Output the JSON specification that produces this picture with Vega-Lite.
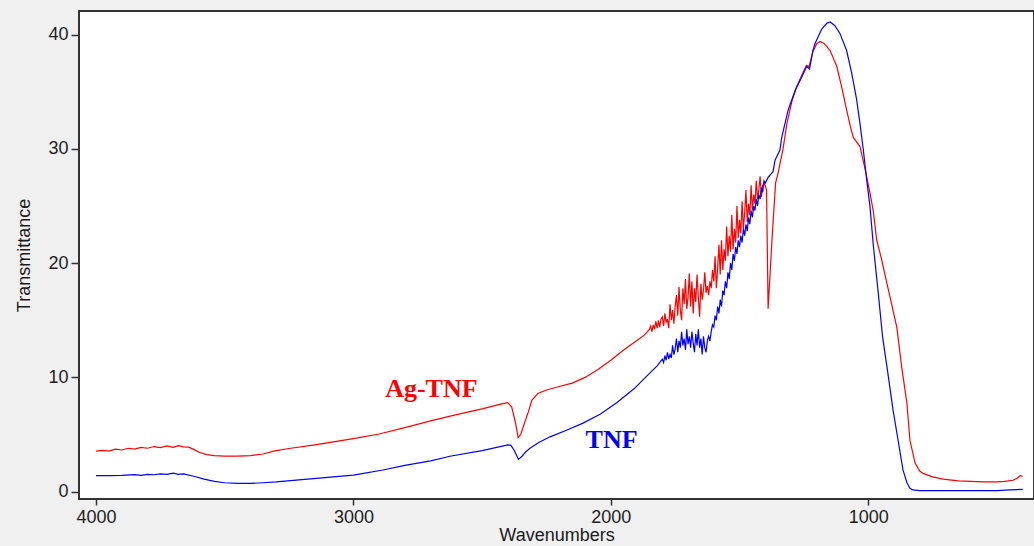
{
  "$schema": "https://vega.github.io/schema/vega-lite/v6.json",
  "autosize": {"type": "none"},
  "padding": {"left": 79, "top": 11, "right": 0, "bottom": 47},
  "width": 955,
  "height": 488,
  "background": "#f0f0f0",
  "config": {
    "view": {"fill": "#ffffff", "stroke": "#333333", "strokeWidth": 2},
    "axis": {
      "labelFont": "Liberation Sans",
      "labelFontSize": 18,
      "labelColor": "#1e1e1e",
      "titleFont": "Liberation Sans",
      "titleFontSize": 18,
      "titleFontWeight": "normal",
      "titleColor": "#1a1a1a",
      "tickColor": "#333333",
      "tickWidth": 1.5,
      "domain": false,
      "grid": false
    }
  },
  "datasets": {
    "spectra": [
      {"w": 4000, "t": 3.55, "s": "Ag-TNF"},
      {"w": 3975, "t": 3.62, "s": "Ag-TNF"},
      {"w": 3950, "t": 3.55, "s": "Ag-TNF"},
      {"w": 3925, "t": 3.72, "s": "Ag-TNF"},
      {"w": 3900, "t": 3.65, "s": "Ag-TNF"},
      {"w": 3875, "t": 3.8, "s": "Ag-TNF"},
      {"w": 3850, "t": 3.72, "s": "Ag-TNF"},
      {"w": 3825, "t": 3.88, "s": "Ag-TNF"},
      {"w": 3800, "t": 3.8, "s": "Ag-TNF"},
      {"w": 3775, "t": 3.95, "s": "Ag-TNF"},
      {"w": 3750, "t": 3.85, "s": "Ag-TNF"},
      {"w": 3725, "t": 4.0, "s": "Ag-TNF"},
      {"w": 3700, "t": 3.88, "s": "Ag-TNF"},
      {"w": 3680, "t": 4.02, "s": "Ag-TNF"},
      {"w": 3660, "t": 3.92, "s": "Ag-TNF"},
      {"w": 3640, "t": 3.9, "s": "Ag-TNF"},
      {"w": 3620, "t": 3.7, "s": "Ag-TNF"},
      {"w": 3600, "t": 3.45, "s": "Ag-TNF"},
      {"w": 3570, "t": 3.25, "s": "Ag-TNF"},
      {"w": 3540, "t": 3.15, "s": "Ag-TNF"},
      {"w": 3500, "t": 3.12, "s": "Ag-TNF"},
      {"w": 3450, "t": 3.12, "s": "Ag-TNF"},
      {"w": 3400, "t": 3.15, "s": "Ag-TNF"},
      {"w": 3350, "t": 3.3, "s": "Ag-TNF"},
      {"w": 3310, "t": 3.55, "s": "Ag-TNF"},
      {"w": 3250, "t": 3.78, "s": "Ag-TNF"},
      {"w": 3150, "t": 4.1, "s": "Ag-TNF"},
      {"w": 3000, "t": 4.65, "s": "Ag-TNF"},
      {"w": 2900, "t": 5.05, "s": "Ag-TNF"},
      {"w": 2800, "t": 5.6, "s": "Ag-TNF"},
      {"w": 2700, "t": 6.2, "s": "Ag-TNF"},
      {"w": 2600, "t": 6.75, "s": "Ag-TNF"},
      {"w": 2500, "t": 7.25, "s": "Ag-TNF"},
      {"w": 2420, "t": 7.7, "s": "Ag-TNF"},
      {"w": 2400, "t": 7.8, "s": "Ag-TNF"},
      {"w": 2385, "t": 7.4, "s": "Ag-TNF"},
      {"w": 2370, "t": 6.0, "s": "Ag-TNF"},
      {"w": 2360, "t": 4.75, "s": "Ag-TNF"},
      {"w": 2350, "t": 5.0, "s": "Ag-TNF"},
      {"w": 2340, "t": 5.7, "s": "Ag-TNF"},
      {"w": 2320, "t": 7.0, "s": "Ag-TNF"},
      {"w": 2307, "t": 8.0, "s": "Ag-TNF"},
      {"w": 2283, "t": 8.6, "s": "Ag-TNF"},
      {"w": 2250, "t": 8.9, "s": "Ag-TNF"},
      {"w": 2200, "t": 9.2, "s": "Ag-TNF"},
      {"w": 2150, "t": 9.5, "s": "Ag-TNF"},
      {"w": 2100, "t": 10.0, "s": "Ag-TNF"},
      {"w": 2050, "t": 10.7, "s": "Ag-TNF"},
      {"w": 2000, "t": 11.5, "s": "Ag-TNF"},
      {"w": 1950, "t": 12.4, "s": "Ag-TNF"},
      {"w": 1900, "t": 13.2, "s": "Ag-TNF"},
      {"w": 1870, "t": 13.7, "s": "Ag-TNF"},
      {"w": 1850, "t": 14.2, "s": "Ag-TNF"},
      {"w": 1845, "t": 14.5, "s": "Ag-TNF"},
      {"w": 1840, "t": 14.0, "s": "Ag-TNF"},
      {"w": 1835, "t": 14.6, "s": "Ag-TNF"},
      {"w": 1830, "t": 14.2, "s": "Ag-TNF"},
      {"w": 1825, "t": 14.9, "s": "Ag-TNF"},
      {"w": 1820, "t": 14.3, "s": "Ag-TNF"},
      {"w": 1815, "t": 15.0, "s": "Ag-TNF"},
      {"w": 1810, "t": 14.4, "s": "Ag-TNF"},
      {"w": 1805, "t": 15.1, "s": "Ag-TNF"},
      {"w": 1800, "t": 15.3, "s": "Ag-TNF"},
      {"w": 1795, "t": 14.5, "s": "Ag-TNF"},
      {"w": 1790, "t": 15.6, "s": "Ag-TNF"},
      {"w": 1785, "t": 14.8, "s": "Ag-TNF"},
      {"w": 1780, "t": 15.1, "s": "Ag-TNF"},
      {"w": 1775, "t": 14.3, "s": "Ag-TNF"},
      {"w": 1770, "t": 16.4, "s": "Ag-TNF"},
      {"w": 1765, "t": 15.0, "s": "Ag-TNF"},
      {"w": 1760, "t": 15.9, "s": "Ag-TNF"},
      {"w": 1755, "t": 14.7, "s": "Ag-TNF"},
      {"w": 1750, "t": 16.2, "s": "Ag-TNF"},
      {"w": 1745, "t": 17.2, "s": "Ag-TNF"},
      {"w": 1740, "t": 15.4, "s": "Ag-TNF"},
      {"w": 1735, "t": 17.9, "s": "Ag-TNF"},
      {"w": 1730, "t": 15.9, "s": "Ag-TNF"},
      {"w": 1725, "t": 15.0, "s": "Ag-TNF"},
      {"w": 1720, "t": 17.8, "s": "Ag-TNF"},
      {"w": 1715, "t": 16.4, "s": "Ag-TNF"},
      {"w": 1710, "t": 18.6, "s": "Ag-TNF"},
      {"w": 1705, "t": 16.0, "s": "Ag-TNF"},
      {"w": 1700, "t": 17.0, "s": "Ag-TNF"},
      {"w": 1695, "t": 19.1, "s": "Ag-TNF"},
      {"w": 1690, "t": 16.2, "s": "Ag-TNF"},
      {"w": 1685, "t": 18.4, "s": "Ag-TNF"},
      {"w": 1680, "t": 15.6, "s": "Ag-TNF"},
      {"w": 1675, "t": 17.8, "s": "Ag-TNF"},
      {"w": 1670, "t": 16.6, "s": "Ag-TNF"},
      {"w": 1665, "t": 19.0, "s": "Ag-TNF"},
      {"w": 1660, "t": 17.0, "s": "Ag-TNF"},
      {"w": 1655, "t": 15.3, "s": "Ag-TNF"},
      {"w": 1650, "t": 18.2, "s": "Ag-TNF"},
      {"w": 1645, "t": 16.8, "s": "Ag-TNF"},
      {"w": 1640, "t": 17.6, "s": "Ag-TNF"},
      {"w": 1635, "t": 19.2, "s": "Ag-TNF"},
      {"w": 1630, "t": 17.4, "s": "Ag-TNF"},
      {"w": 1625, "t": 18.0, "s": "Ag-TNF"},
      {"w": 1620, "t": 17.2, "s": "Ag-TNF"},
      {"w": 1615, "t": 18.4, "s": "Ag-TNF"},
      {"w": 1610, "t": 17.8, "s": "Ag-TNF"},
      {"w": 1605, "t": 19.4, "s": "Ag-TNF"},
      {"w": 1600, "t": 18.4, "s": "Ag-TNF"},
      {"w": 1595, "t": 20.6, "s": "Ag-TNF"},
      {"w": 1590, "t": 17.8, "s": "Ag-TNF"},
      {"w": 1585, "t": 19.6, "s": "Ag-TNF"},
      {"w": 1580, "t": 21.6, "s": "Ag-TNF"},
      {"w": 1575, "t": 19.0, "s": "Ag-TNF"},
      {"w": 1570, "t": 22.0, "s": "Ag-TNF"},
      {"w": 1565, "t": 19.4, "s": "Ag-TNF"},
      {"w": 1560, "t": 21.2, "s": "Ag-TNF"},
      {"w": 1555, "t": 20.2, "s": "Ag-TNF"},
      {"w": 1550, "t": 23.2, "s": "Ag-TNF"},
      {"w": 1545, "t": 20.6, "s": "Ag-TNF"},
      {"w": 1540, "t": 22.4, "s": "Ag-TNF"},
      {"w": 1535, "t": 21.0, "s": "Ag-TNF"},
      {"w": 1530, "t": 24.2, "s": "Ag-TNF"},
      {"w": 1525, "t": 21.2, "s": "Ag-TNF"},
      {"w": 1520, "t": 23.0, "s": "Ag-TNF"},
      {"w": 1515, "t": 21.8, "s": "Ag-TNF"},
      {"w": 1510, "t": 25.0, "s": "Ag-TNF"},
      {"w": 1505, "t": 22.2, "s": "Ag-TNF"},
      {"w": 1500, "t": 23.8, "s": "Ag-TNF"},
      {"w": 1495, "t": 22.6, "s": "Ag-TNF"},
      {"w": 1490, "t": 25.4, "s": "Ag-TNF"},
      {"w": 1485, "t": 23.0, "s": "Ag-TNF"},
      {"w": 1480, "t": 24.4, "s": "Ag-TNF"},
      {"w": 1475, "t": 26.4, "s": "Ag-TNF"},
      {"w": 1470, "t": 23.6, "s": "Ag-TNF"},
      {"w": 1465, "t": 25.2, "s": "Ag-TNF"},
      {"w": 1460, "t": 24.2, "s": "Ag-TNF"},
      {"w": 1455, "t": 26.8, "s": "Ag-TNF"},
      {"w": 1450, "t": 24.6, "s": "Ag-TNF"},
      {"w": 1445, "t": 26.0, "s": "Ag-TNF"},
      {"w": 1440, "t": 25.2, "s": "Ag-TNF"},
      {"w": 1435, "t": 27.2, "s": "Ag-TNF"},
      {"w": 1430, "t": 25.6, "s": "Ag-TNF"},
      {"w": 1425, "t": 26.4, "s": "Ag-TNF"},
      {"w": 1420, "t": 27.6, "s": "Ag-TNF"},
      {"w": 1415, "t": 25.8, "s": "Ag-TNF"},
      {"w": 1410, "t": 26.8, "s": "Ag-TNF"},
      {"w": 1405, "t": 27.0, "s": "Ag-TNF"},
      {"w": 1400, "t": 26.8, "s": "Ag-TNF"},
      {"w": 1395, "t": 26.4, "s": "Ag-TNF"},
      {"w": 1389, "t": 16.0, "s": "Ag-TNF"},
      {"w": 1374, "t": 22.0, "s": "Ag-TNF"},
      {"w": 1360, "t": 27.0, "s": "Ag-TNF"},
      {"w": 1350, "t": 27.9, "s": "Ag-TNF"},
      {"w": 1331, "t": 30.0, "s": "Ag-TNF"},
      {"w": 1316, "t": 32.2, "s": "Ag-TNF"},
      {"w": 1296, "t": 34.2, "s": "Ag-TNF"},
      {"w": 1277, "t": 35.5, "s": "Ag-TNF"},
      {"w": 1255, "t": 36.6, "s": "Ag-TNF"},
      {"w": 1240, "t": 37.3, "s": "Ag-TNF"},
      {"w": 1230, "t": 37.2, "s": "Ag-TNF"},
      {"w": 1215, "t": 38.5, "s": "Ag-TNF"},
      {"w": 1200, "t": 39.2, "s": "Ag-TNF"},
      {"w": 1187, "t": 39.4, "s": "Ag-TNF"},
      {"w": 1170, "t": 39.2, "s": "Ag-TNF"},
      {"w": 1148, "t": 38.6, "s": "Ag-TNF"},
      {"w": 1122, "t": 37.2, "s": "Ag-TNF"},
      {"w": 1103, "t": 35.4, "s": "Ag-TNF"},
      {"w": 1084, "t": 33.4, "s": "Ag-TNF"},
      {"w": 1070, "t": 32.0, "s": "Ag-TNF"},
      {"w": 1058, "t": 31.0, "s": "Ag-TNF"},
      {"w": 1045, "t": 30.6, "s": "Ag-TNF"},
      {"w": 1032, "t": 30.2, "s": "Ag-TNF"},
      {"w": 1012, "t": 28.2, "s": "Ag-TNF"},
      {"w": 993, "t": 26.1, "s": "Ag-TNF"},
      {"w": 980, "t": 24.5, "s": "Ag-TNF"},
      {"w": 967, "t": 22.0, "s": "Ag-TNF"},
      {"w": 950, "t": 20.5, "s": "Ag-TNF"},
      {"w": 928, "t": 18.3, "s": "Ag-TNF"},
      {"w": 910, "t": 16.5, "s": "Ag-TNF"},
      {"w": 889, "t": 14.4, "s": "Ag-TNF"},
      {"w": 870, "t": 10.9, "s": "Ag-TNF"},
      {"w": 850, "t": 7.8, "s": "Ag-TNF"},
      {"w": 838, "t": 4.5, "s": "Ag-TNF"},
      {"w": 818, "t": 2.5, "s": "Ag-TNF"},
      {"w": 800, "t": 1.8, "s": "Ag-TNF"},
      {"w": 787, "t": 1.6, "s": "Ag-TNF"},
      {"w": 750, "t": 1.3, "s": "Ag-TNF"},
      {"w": 709, "t": 1.1, "s": "Ag-TNF"},
      {"w": 650, "t": 0.95, "s": "Ag-TNF"},
      {"w": 600, "t": 0.9, "s": "Ag-TNF"},
      {"w": 554, "t": 0.85, "s": "Ag-TNF"},
      {"w": 500, "t": 0.85, "s": "Ag-TNF"},
      {"w": 470, "t": 0.9, "s": "Ag-TNF"},
      {"w": 437, "t": 1.0, "s": "Ag-TNF"},
      {"w": 420, "t": 1.2, "s": "Ag-TNF"},
      {"w": 410, "t": 1.4, "s": "Ag-TNF"},
      {"w": 400, "t": 1.35, "s": "Ag-TNF"},

      {"w": 4000, "t": 1.4, "s": "TNF"},
      {"w": 3950, "t": 1.4, "s": "TNF"},
      {"w": 3900, "t": 1.42, "s": "TNF"},
      {"w": 3850, "t": 1.5, "s": "TNF"},
      {"w": 3825, "t": 1.42, "s": "TNF"},
      {"w": 3800, "t": 1.52, "s": "TNF"},
      {"w": 3775, "t": 1.48, "s": "TNF"},
      {"w": 3750, "t": 1.56, "s": "TNF"},
      {"w": 3725, "t": 1.52, "s": "TNF"},
      {"w": 3700, "t": 1.62, "s": "TNF"},
      {"w": 3680, "t": 1.52, "s": "TNF"},
      {"w": 3660, "t": 1.55, "s": "TNF"},
      {"w": 3620, "t": 1.35, "s": "TNF"},
      {"w": 3580, "t": 1.1, "s": "TNF"},
      {"w": 3540, "t": 0.9, "s": "TNF"},
      {"w": 3500, "t": 0.78, "s": "TNF"},
      {"w": 3450, "t": 0.72, "s": "TNF"},
      {"w": 3400, "t": 0.72, "s": "TNF"},
      {"w": 3350, "t": 0.78, "s": "TNF"},
      {"w": 3300, "t": 0.85, "s": "TNF"},
      {"w": 3200, "t": 1.05, "s": "TNF"},
      {"w": 3100, "t": 1.25, "s": "TNF"},
      {"w": 3000, "t": 1.45, "s": "TNF"},
      {"w": 2885, "t": 1.9, "s": "TNF"},
      {"w": 2800, "t": 2.3, "s": "TNF"},
      {"w": 2700, "t": 2.7, "s": "TNF"},
      {"w": 2625, "t": 3.1, "s": "TNF"},
      {"w": 2500, "t": 3.6, "s": "TNF"},
      {"w": 2400, "t": 4.1, "s": "TNF"},
      {"w": 2388, "t": 4.05, "s": "TNF"},
      {"w": 2375, "t": 3.6, "s": "TNF"},
      {"w": 2359, "t": 2.83, "s": "TNF"},
      {"w": 2345, "t": 3.1, "s": "TNF"},
      {"w": 2330, "t": 3.5, "s": "TNF"},
      {"w": 2314, "t": 3.8, "s": "TNF"},
      {"w": 2280, "t": 4.3, "s": "TNF"},
      {"w": 2236, "t": 4.8, "s": "TNF"},
      {"w": 2170, "t": 5.4, "s": "TNF"},
      {"w": 2108, "t": 6.0, "s": "TNF"},
      {"w": 2040, "t": 6.8, "s": "TNF"},
      {"w": 1976, "t": 7.8, "s": "TNF"},
      {"w": 1910, "t": 9.0, "s": "TNF"},
      {"w": 1848, "t": 10.4, "s": "TNF"},
      {"w": 1820, "t": 11.0, "s": "TNF"},
      {"w": 1800, "t": 11.6, "s": "TNF"},
      {"w": 1795, "t": 11.3, "s": "TNF"},
      {"w": 1790, "t": 11.9, "s": "TNF"},
      {"w": 1785, "t": 11.5, "s": "TNF"},
      {"w": 1780, "t": 12.2, "s": "TNF"},
      {"w": 1775, "t": 11.6, "s": "TNF"},
      {"w": 1770, "t": 12.0, "s": "TNF"},
      {"w": 1765, "t": 11.7, "s": "TNF"},
      {"w": 1760, "t": 12.8, "s": "TNF"},
      {"w": 1755, "t": 12.0, "s": "TNF"},
      {"w": 1750, "t": 12.5, "s": "TNF"},
      {"w": 1745, "t": 13.4, "s": "TNF"},
      {"w": 1740, "t": 12.2, "s": "TNF"},
      {"w": 1735, "t": 13.2, "s": "TNF"},
      {"w": 1730, "t": 12.6, "s": "TNF"},
      {"w": 1725, "t": 14.0, "s": "TNF"},
      {"w": 1720, "t": 12.8, "s": "TNF"},
      {"w": 1715, "t": 13.4, "s": "TNF"},
      {"w": 1710, "t": 12.4, "s": "TNF"},
      {"w": 1705, "t": 14.2, "s": "TNF"},
      {"w": 1700, "t": 12.9, "s": "TNF"},
      {"w": 1695, "t": 13.6, "s": "TNF"},
      {"w": 1690, "t": 12.6, "s": "TNF"},
      {"w": 1685, "t": 14.0, "s": "TNF"},
      {"w": 1680, "t": 13.0, "s": "TNF"},
      {"w": 1675, "t": 12.2, "s": "TNF"},
      {"w": 1670, "t": 13.8, "s": "TNF"},
      {"w": 1665, "t": 12.8, "s": "TNF"},
      {"w": 1660, "t": 14.2, "s": "TNF"},
      {"w": 1655, "t": 12.6, "s": "TNF"},
      {"w": 1650, "t": 13.4, "s": "TNF"},
      {"w": 1645, "t": 12.0, "s": "TNF"},
      {"w": 1640, "t": 13.6, "s": "TNF"},
      {"w": 1635, "t": 12.6, "s": "TNF"},
      {"w": 1630, "t": 12.2, "s": "TNF"},
      {"w": 1625, "t": 13.2, "s": "TNF"},
      {"w": 1620, "t": 13.6, "s": "TNF"},
      {"w": 1615, "t": 13.2, "s": "TNF"},
      {"w": 1610, "t": 14.0, "s": "TNF"},
      {"w": 1605, "t": 14.6, "s": "TNF"},
      {"w": 1600, "t": 14.4, "s": "TNF"},
      {"w": 1595, "t": 15.4, "s": "TNF"},
      {"w": 1590, "t": 15.0, "s": "TNF"},
      {"w": 1585, "t": 16.2, "s": "TNF"},
      {"w": 1580, "t": 15.6, "s": "TNF"},
      {"w": 1575, "t": 16.8, "s": "TNF"},
      {"w": 1570, "t": 16.2, "s": "TNF"},
      {"w": 1565, "t": 17.6, "s": "TNF"},
      {"w": 1560, "t": 17.2, "s": "TNF"},
      {"w": 1555, "t": 18.4, "s": "TNF"},
      {"w": 1550, "t": 17.8, "s": "TNF"},
      {"w": 1545, "t": 19.2, "s": "TNF"},
      {"w": 1540, "t": 18.6, "s": "TNF"},
      {"w": 1535, "t": 20.0, "s": "TNF"},
      {"w": 1530, "t": 19.4, "s": "TNF"},
      {"w": 1525, "t": 20.8, "s": "TNF"},
      {"w": 1520, "t": 20.2, "s": "TNF"},
      {"w": 1515, "t": 21.4, "s": "TNF"},
      {"w": 1510, "t": 20.8, "s": "TNF"},
      {"w": 1505, "t": 22.0, "s": "TNF"},
      {"w": 1500, "t": 21.4, "s": "TNF"},
      {"w": 1495, "t": 22.4, "s": "TNF"},
      {"w": 1490, "t": 21.8, "s": "TNF"},
      {"w": 1485, "t": 23.0, "s": "TNF"},
      {"w": 1480, "t": 22.4, "s": "TNF"},
      {"w": 1475, "t": 23.4, "s": "TNF"},
      {"w": 1470, "t": 22.8, "s": "TNF"},
      {"w": 1465, "t": 24.0, "s": "TNF"},
      {"w": 1460, "t": 23.4, "s": "TNF"},
      {"w": 1455, "t": 24.6, "s": "TNF"},
      {"w": 1450, "t": 24.0, "s": "TNF"},
      {"w": 1445, "t": 25.0, "s": "TNF"},
      {"w": 1440, "t": 24.6, "s": "TNF"},
      {"w": 1435, "t": 25.6, "s": "TNF"},
      {"w": 1430, "t": 25.0, "s": "TNF"},
      {"w": 1425, "t": 26.0, "s": "TNF"},
      {"w": 1420, "t": 25.6, "s": "TNF"},
      {"w": 1415, "t": 26.6, "s": "TNF"},
      {"w": 1410, "t": 26.2, "s": "TNF"},
      {"w": 1405, "t": 27.2, "s": "TNF"},
      {"w": 1400, "t": 27.0, "s": "TNF"},
      {"w": 1389, "t": 27.5, "s": "TNF"},
      {"w": 1370, "t": 28.0, "s": "TNF"},
      {"w": 1362, "t": 29.0, "s": "TNF"},
      {"w": 1343, "t": 29.9, "s": "TNF"},
      {"w": 1336, "t": 31.0, "s": "TNF"},
      {"w": 1311, "t": 33.4, "s": "TNF"},
      {"w": 1284, "t": 35.1, "s": "TNF"},
      {"w": 1260, "t": 36.2, "s": "TNF"},
      {"w": 1239, "t": 37.2, "s": "TNF"},
      {"w": 1228, "t": 37.0, "s": "TNF"},
      {"w": 1215, "t": 38.6, "s": "TNF"},
      {"w": 1207, "t": 39.2, "s": "TNF"},
      {"w": 1180, "t": 40.5, "s": "TNF"},
      {"w": 1160, "t": 41.0, "s": "TNF"},
      {"w": 1148, "t": 41.1, "s": "TNF"},
      {"w": 1130, "t": 40.8, "s": "TNF"},
      {"w": 1110, "t": 40.1, "s": "TNF"},
      {"w": 1084, "t": 38.6, "s": "TNF"},
      {"w": 1064, "t": 36.6, "s": "TNF"},
      {"w": 1045, "t": 34.3, "s": "TNF"},
      {"w": 1032, "t": 32.2, "s": "TNF"},
      {"w": 1019, "t": 29.9, "s": "TNF"},
      {"w": 1006, "t": 27.3, "s": "TNF"},
      {"w": 993, "t": 24.9, "s": "TNF"},
      {"w": 980, "t": 21.5, "s": "TNF"},
      {"w": 962, "t": 17.6, "s": "TNF"},
      {"w": 944, "t": 13.5, "s": "TNF"},
      {"w": 927, "t": 10.9, "s": "TNF"},
      {"w": 904, "t": 7.2, "s": "TNF"},
      {"w": 884, "t": 4.5, "s": "TNF"},
      {"w": 865, "t": 1.9, "s": "TNF"},
      {"w": 850, "t": 0.8, "s": "TNF"},
      {"w": 838, "t": 0.3, "s": "TNF"},
      {"w": 826, "t": 0.15, "s": "TNF"},
      {"w": 800, "t": 0.1, "s": "TNF"},
      {"w": 700, "t": 0.1, "s": "TNF"},
      {"w": 600, "t": 0.1, "s": "TNF"},
      {"w": 500, "t": 0.1, "s": "TNF"},
      {"w": 450, "t": 0.15, "s": "TNF"},
      {"w": 400, "t": 0.2, "s": "TNF"}
    ],
    "labels": [
      {"w": 2697, "t": 8.31, "s": "Ag-TNF", "label": "Ag-TNF"},
      {"w": 1997, "t": 3.82, "s": "TNF", "label": "TNF"}
    ]
  },
  "layer": [
    {
      "data": {"name": "spectra"},
      "mark": {"type": "line", "strokeWidth": 1.2, "clip": true},
      "encoding": {
        "x": {
          "field": "w",
          "type": "quantitative",
          "scale": {"domain": [356, 4066], "reverse": true, "nice": false, "zero": false},
          "axis": {
            "values": [4000, 3000, 2000, 1000],
            "format": "d",
            "title": "Wavenumbers",
            "tickSize": 6,
            "labelPadding": 3,
            "titlePadding": 0
          }
        },
        "y": {
          "field": "t",
          "type": "quantitative",
          "scale": {"domain": [-0.64, 42.06], "nice": false, "zero": false},
          "axis": {
            "values": [0, 10, 20, 30, 40],
            "title": "Transmittance",
            "tickSize": 8,
            "labelPadding": 3,
            "titlePadding": 14
          }
        },
        "color": {
          "field": "s",
          "type": "nominal",
          "scale": {"domain": ["Ag-TNF", "TNF"], "range": ["#ff0000", "#0000ff"]},
          "legend": null
        }
      }
    },
    {
      "data": {"name": "labels"},
      "mark": {
        "type": "text",
        "font": "Liberation Serif",
        "fontSize": 26,
        "fontWeight": "bold",
        "align": "center",
        "baseline": "alphabetic"
      },
      "encoding": {
        "x": {"field": "w", "type": "quantitative"},
        "y": {"field": "t", "type": "quantitative"},
        "text": {"field": "label"},
        "color": {"field": "s", "type": "nominal", "legend": null}
      }
    }
  ]
}
